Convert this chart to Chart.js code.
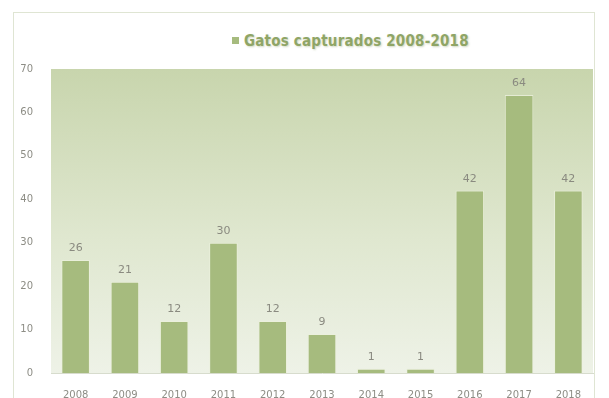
<!DOCTYPE html>
<html>
<head>
<meta charset="utf-8">
<script src="https://cdn.jsdelivr.net/npm/chart.js@4.4.1/dist/chart.umd.min.js"></script>
<style>
  body { margin: 0; background: #fff; width: 609px; height: 398px; overflow: hidden; }
  #frame {
    position: absolute; left: 13px; top: 12px; width: 582px; height: 392px;
    border: 1px solid #dfe5d3; box-sizing: border-box; background: #fff;
  }
  #title {
    position: absolute; left: 218px; top: 19px;
    font-family: "DejaVu Sans Condensed", "DejaVu Sans", sans-serif; font-weight: bold;
    font-size: 15px; color: #8fa566; letter-spacing: 0.2px;
    text-shadow: 1px 1px 2px rgba(120, 140, 80, 0.35);
  }
  #title span {
    display: inline-block; width: 7px; height: 7px; background: #a6bb7e;
    margin-right: 5px; vertical-align: 2px;
  }
  canvas { position: absolute; left: 0; top: 0; }
</style>
</head>
<body>
<div id="frame">
  <div id="title"><span></span>Gatos capturados 2008-2018</div>
  <canvas id="chart" width="582" height="392"></canvas>
</div>
<script>
const years = ['2008', '2009', '2010', '2011', '2012', '2013', '2014', '2015', '2016', '2017', '2018'];
const catsCaught = [26, 21, 12, 30, 12, 9, 1, 1, 42, 64, 42];
const yTicks = [0, 10, 20, 30, 40, 50, 60, 70];

// gradient fill behind the plot area
const plotBackground = {
  id: 'plotBackground',
  beforeDraw(chart) {
    const { ctx, chartArea: a } = chart;
    const g = ctx.createLinearGradient(0, a.top, 0, a.bottom);
    g.addColorStop(0, '#c8d5ad');
    g.addColorStop(0.55, '#dfe7cf');
    g.addColorStop(1, '#eef2e7');
    ctx.save();
    ctx.fillStyle = g;
    ctx.fillRect(a.left, a.top, a.right - a.left, a.bottom - a.top);
    ctx.restore();
  }
};

// value printed above each bar
const barValues = {
  id: 'barValues',
  afterDatasetsDraw(chart) {
    const { ctx } = chart;
    const meta = chart.getDatasetMeta(0);
    ctx.save();
    ctx.font = '11px "DejaVu Sans", sans-serif';
    ctx.fillStyle = '#8a8a80';
    ctx.textAlign = 'center';
    ctx.textBaseline = 'bottom';
    meta.data.forEach((bar, i) => {
      ctx.fillText(String(catsCaught[i]), bar.x, bar.y - 6);
    });
    ctx.restore();
  }
};

new Chart(document.getElementById('chart'), {
  type: 'bar',
  data: {
    labels: years,
    datasets: [{
      label: 'Gatos capturados 2008-2018',
      data: catsCaught,
      backgroundColor: '#a6bb7e',
      borderColor: 'rgba(235, 240, 220, 0.8)',
      borderWidth: { left: 1, right: 1, top: 1, bottom: 0 },
      borderSkipped: 'bottom',
      barPercentage: 0.58,
      categoryPercentage: 1
    }]
  },
  options: {
    responsive: false,
    animation: false,
    layout: { padding: { top: 56, right: 3, left: 0, bottom: 0 } },
    scales: {
      x: {
        grid: { display: false },
        border: { color: '#d7dccd' },
        ticks: {
          color: '#8d8d85', font: { family: 'DejaVu Sans', size: 10 },
          padding: 8, maxRotation: 0, autoSkip: false
        },
        afterFit(scale) { scale.height = 32; }
      },
      y: {
        min: 0, max: 70,
        afterBuildTicks(scale) { scale.ticks = yTicks.map(v => ({ value: v })); },
        grid: { display: false },
        border: { display: false },
        ticks: {
          color: '#8d8d85', font: { family: 'DejaVu Sans', size: 10 },
          padding: 10
        },
        afterFit(scale) { scale.width = 37; }
      }
    },
    plugins: {
      legend: { display: false },
      tooltip: { enabled: false }
    }
  },
  plugins: [plotBackground, barValues]
});
</script>
</body>
</html>
